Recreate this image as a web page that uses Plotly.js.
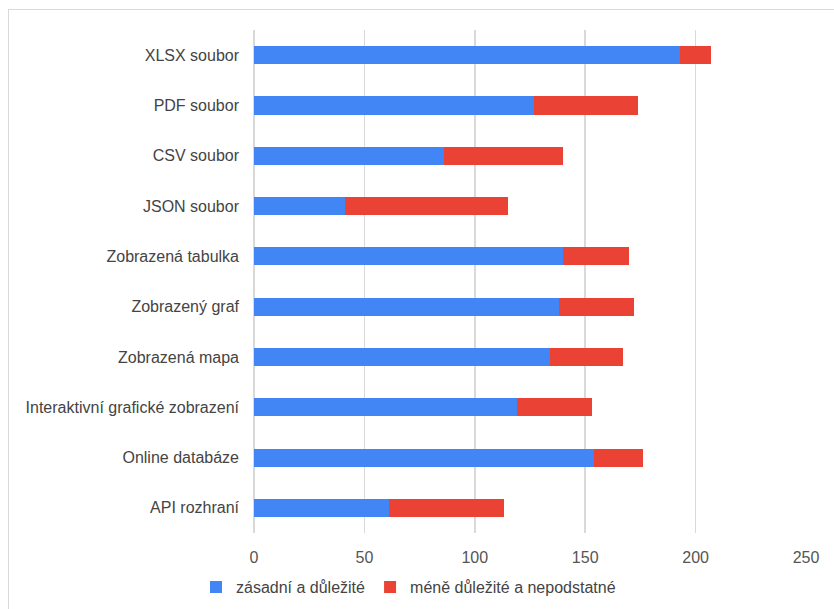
<!DOCTYPE html>
<html>
<head>
<meta charset="utf-8">
<script src="https://cdn.plot.ly/plotly-3.0.1.min.js"></script>
<style>
html,body{margin:0;padding:0;background:#fff;}
#wrap{position:relative;width:834px;height:609px;}
#chart{width:834px;height:609px;}
#frame{position:absolute;left:8px;top:9px;width:830px;height:610px;border:1px solid #d9d9d9;pointer-events:none;box-sizing:border-box;}
</style>
</head>
<body>
<div id="wrap"><div id="chart"></div><div id="frame"></div></div>
<script>
var categories = ["XLSX soubor","PDF soubor","CSV soubor","JSON soubor","Zobrazená tabulka","Zobrazený graf","Zobrazená mapa","Interaktivní grafické zobrazení","Online databáze","API rozhraní"];
var important = [193,127,86,41,140,138,134,119,154,61];
var lessImportant = [14,47,54,74,30,34,33,34,22,52];
var seriesNames = ["zásadní a důležité","méně důležité a nepodstatné"];
var xTicks = [0,50,100,150,200,250];

var traces = [
  {type:'bar',orientation:'h',name:seriesNames[0],y:categories,x:important,marker:{color:'#4285f4'},width:0.36},
  {type:'bar',orientation:'h',name:seriesNames[1],y:categories,x:lessImportant,marker:{color:'#ea4335'},width:0.36}
];
var layout = {
  width:834,height:609,
  barmode:'stack',
  margin:{l:254,r:28,t:30,b:76,autoexpand:false},
  paper_bgcolor:'#fff',plot_bgcolor:'#fff',
  font:{family:'"Liberation Sans", Arial, sans-serif',size:16,color:'#555'},
  xaxis:{range:[0,250],tickvals:xTicks,showgrid:true,gridcolor:'#d9d9d9',gridwidth:1.5,zeroline:true,zerolinecolor:'#d9d9d9',zerolinewidth:1.5,ticks:'',ticklabelstandoff:13,tickfont:{size:16,color:'#555'},automargin:false},
  yaxis:{type:'category',autorange:'reversed',ticks:'',ticklabelstandoff:14,tickfont:{size:16,color:'#444'},showgrid:false,zeroline:false,automargin:false},
  showlegend:true,
  legend:{orientation:'h',x:0.235,xref:'container',xanchor:'left',y:0.036,yref:'container',yanchor:'middle',font:{size:16,color:'#444'},traceorder:'normal'}
};
Plotly.newPlot('chart',traces,layout,{displayModeBar:false,staticPlot:true});
</script>
</body>
</html>
